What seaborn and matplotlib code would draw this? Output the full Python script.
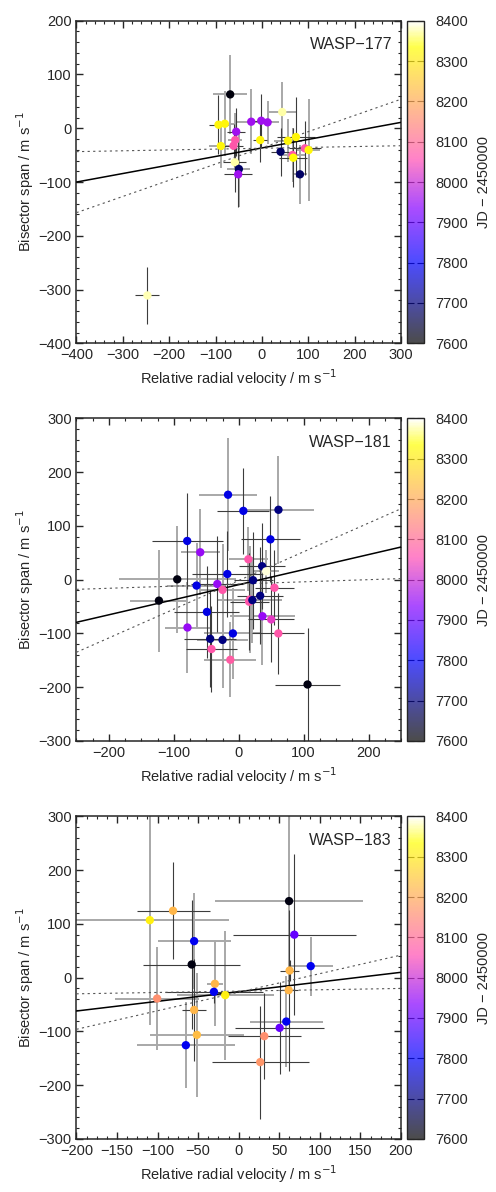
import numpy as np
import matplotlib
matplotlib.use('Agg')
import matplotlib.pyplot as plt
from matplotlib.colors import ListedColormap, Normalize
from matplotlib.cm import ScalarMappable
from matplotlib.ticker import MultipleLocator
import seaborn as sns

sns.set_style('ticks')
plt.rcParams['font.family'] = ['Liberation Sans', 'DejaVu Sans']
plt.rcParams['font.size'] = 10.5

# --- WASP-177 ---
rv_177 = [-68.5, -93.7, -80, -55.5, -57.7, -61.3, -88.6, -58.3, -49.7, -51.2, -23.1, -1.5,
          12.2, -3.7, 43.8, 40.2, 56.1, 73.4, 66, 67.6, 82, 92.8, 100.7, -247]
bs_177 = [63, 6.6, 8.4, -6.4, -21.9, -32.5, -33, -63.4, -75.8, -85.7, 12.2, 14,
          11, -21.9, 30.2, -43.6, -23.2, -16.3, -49.8, -54.8, -85.7, -37.3, -40.5, -311]
rverr_177 = [37, 20, 20, 20, 15, 20, 25, 25, 25, 30, 35, 20,
             25, 15, 30, 20, 30, 40, 30, 30, 15, 35, 25, 26]
bserr_177 = [74, 55, 60, 45, 50, 40, 40, 55, 70, 60, 60, 50,
             40, 40, 55, 45, 40, 75, 50, 55, 55, 50, 95, 53]
jd_177 = [7610, 8320, 8320, 7960, 8070, 8070, 8320, 8375, 7680, 7960, 7960, 7960,
          7960, 8320, 8375, 7680, 8320, 8320, 8070, 8330, 7680, 8070, 8320, 8380]

# --- WASP-181 ---
rv_181 = [-16.5, 7.1, 61.2, -79.4, -59.3, 48.8, 14.8, 36, 42.2, -17.6, -94.8, 22,
          -65, -33, -25, 55, -123, 33, 17, 16, 21, -49, 36.5, 50,
          -79, 61, -9, -44, -25, -42, -13, 106]
bs_181 = [158, 128, 130, 72, 51, 75, 38, 25, 15.5, 10.5, 0.6, -1,
          -11, -8, -19, -15, -39, -30, -37, -41, -38, -60, -68, -74,
          -89, -100, -100, -110, -112, -129, -149, -195]
rverr_181 = [45, 40, 55, 55, 30, 45, 30, 35, 20, 55, 90, 30,
             45, 40, 35, 30, 45, 35, 50, 30, 45, 50, 50, 35,
             35, 40, 45, 40, 40, 40, 40, 50]
bserr_181 = [105, 80, 100, 90, 80, 80, 60, 80, 40, 80, 100, 90,
             80, 90, 85, 70, 95, 90, 100, 90, 80, 85, 90, 80,
             85, 75, 85, 90, 90, 80, 70, 105]
jd_181 = [7780, 7780, 7700, 7780, 7950, 7780, 8070, 7700, 8390, 7780, 7615, 7700,
          7780, 7950, 8070, 8070, 7615, 7700, 8070, 8070, 7700, 7780, 7950, 8030,
          7950, 8070, 7780, 7700, 7700, 8070, 8080, 7615]

# --- WASP-183 ---
rv_183 = [62, -81, -109.6, 68.5, -55, -58, 88.7, 62.7, -29.4, -30.6, -16.7, 61.5,
          -100.6, -55, 58.6, 50.4, -51.6, 31.5, -65.2, 26.5]
bs_183 = [142.5, 124.5, 107, 80, 68, 24.5, 21.5, 13.3, -11.4, -26.3, -32.5, -23.2,
          -38.8, -60, -81.6, -93.3, -106.4, -108.8, -125.6, -157]
rverr_183 = [91, 45, 97, 76, 45, 60, 28, 12, 10, 60, 60, 12,
             52, 15, 45, 55, 58, 45, 60, 60]
bserr_183 = [160, 90, 195, 150, 89, 120, 55, 20, 79, 20, 120, 150,
             95, 95, 85, 85, 115, 80, 80, 105]
jd_183 = [7615, 8220, 8310, 7900, 7790, 7615, 7790, 8220, 8220, 7790, 8310, 8220,
          8160, 8220, 7790, 7900, 8230, 8160, 7790, 8170]

# fit lines: (slope, intercept) for best fit and the two bounding fits
fit_177 = [(0.1586, -36.6), (0.0157, -37.2), (0.3014, -36.4)]
fit_181 = [(0.280, -9.3), (0.040, -8.0), (0.534, -1.5)]
fit_183 = [(0.180, -26.0), (0.025, -25.0), (0.345, -27.0)]

# gnuplot-style palette (rgbformulae 30,31,32)
t = np.linspace(0, 1, 256)
r = np.clip(t / 0.32 - 0.78125, 0, 1)
g = np.clip(2 * t - 0.84, 0, 1)
b = np.where(t < 0.25, 4 * t,
             np.where(t < 0.42, 1.0,
                      np.where(t < 0.92, -2 * t + 1.84, t / 0.08 - 11.5)))
b = np.clip(b, 0, 1)
cmap = ListedColormap(np.column_stack([r, g, b]))
norm = Normalize(7600, 8400)

panels = [
    ('WASP\u2212177', rv_177, bs_177, rverr_177, bserr_177, jd_177, fit_177,
     (-400, 300), (-400, 200), 100, 20, 0.7120),
    ('WASP\u2212181', rv_181, bs_181, rverr_181, bserr_181, jd_181, fit_181,
     (-250, 250), (-300, 300), 100, 25, 0.3784),
    ('WASP\u2212183', rv_183, bs_183, rverr_183, bserr_183, jd_183, fit_183,
     (-200, 200), (-300, 300), 50, 12.5, 0.0445),
]

fig = plt.figure(figsize=(4.96, 11.92), dpi=100)
ax_left, ax_w, ax_h = 0.1542, 0.6543, 0.2706

for name, rv, bs, rverr, bserr, jd, fits, xlim, ylim, xmaj, xmin, bottom in panels:
    ax = fig.add_axes([ax_left, bottom, ax_w, ax_h])
    rv = np.array(rv); bs = np.array(bs)
    rverr = np.array(rverr); bserr = np.array(bserr)
    idx = np.arange(len(rv))
    for sel, col, lw in [(idx % 2 == 0, '#a8a8a8', 1.4), (idx % 2 == 1, '#3c3c3c', 0.8)]:
        ax.errorbar(rv[sel], bs[sel], xerr=rverr[sel], yerr=bserr[sel], fmt='none',
                    ecolor=col, elinewidth=lw, capsize=0, zorder=2)
    (s0, c0), (s1, c1), (s2, c2) = fits
    ax.axline((0, c0), slope=s0, color='black', lw=1.1, zorder=4)
    ax.axline((0, c1), slope=s1, color='#555555', lw=0.8, ls=(0, (2, 3)), zorder=4)
    ax.axline((0, c2), slope=s2, color='#555555', lw=0.8, ls=(0, (2, 3)), zorder=4)
    sns.scatterplot(x=rv, y=bs, hue=jd, palette=cmap, hue_norm=norm, s=36,
                    edgecolor='none', linewidth=0, legend=False, ax=ax, zorder=5)
    ax.set_xlim(*xlim)
    ax.set_ylim(*ylim)
    ax.xaxis.set_major_locator(MultipleLocator(xmaj))
    ax.xaxis.set_minor_locator(MultipleLocator(xmin))
    ax.yaxis.set_major_locator(MultipleLocator(100))
    ax.yaxis.set_minor_locator(MultipleLocator(20))
    ax.tick_params(which='both', direction='in', top=True, right=True, labelsize=10.5)
    ax.tick_params(which='major', length=5, width=1)
    ax.tick_params(which='minor', length=2.5, width=0.8)
    for sp in ax.spines.values():
        sp.set_linewidth(1.1)
    ax.set_xlabel('Relative radial velocity / m s$^{-1}$', fontsize=10.5, labelpad=4)
    ax.set_ylabel('Bisector span / m s$^{-1}$', fontsize=10.5, labelpad=2)
    ax.text(0.972, 0.925, name, transform=ax.transAxes, ha='right', va='center', fontsize=11.5)

    cax = fig.add_axes([0.8212, bottom, 0.0343, ax_h])
    cb = fig.colorbar(ScalarMappable(norm=norm, cmap=cmap), cax=cax)
    cb.solids.set_alpha(0.7)
    cb.set_ticks(np.arange(7600, 8401, 100))
    cb.ax.tick_params(direction='in', left=True, right=True, length=5, width=0.8,
                      labelsize=10.5, pad=8)
    cb.outline.set_linewidth(1.0)
    cb.set_label('JD \u2212 2450000', fontsize=10.5, labelpad=6)

fig.savefig('out.png', dpi=100)
